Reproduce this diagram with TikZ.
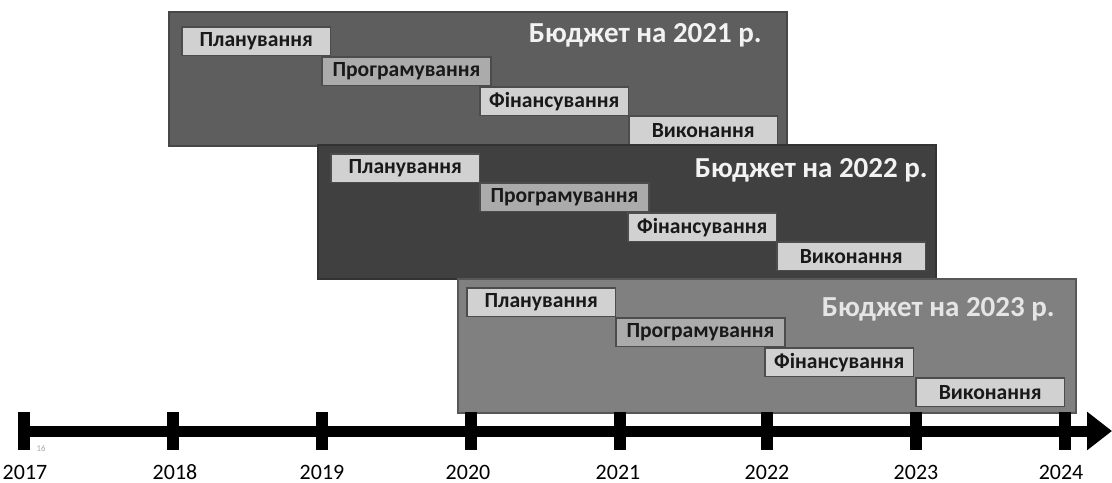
\documentclass[tikz,border=0pt]{standalone}
\usepackage{fontspec}
\setmainfont{Carlito}[Numbers=Lining]
\usepackage{tikz}
\usetikzlibrary{arrows.meta}

\begin{document}
\begin{tikzpicture}[x=0.02cm,y=-0.02cm,
   budget/.style={draw, line width=1.2pt, outer sep=0pt, inner sep=0pt,
                  minimum width=12.37cm, minimum height=2.68cm, anchor=north west},
   stage/.style={draw=black!70, line width=1pt, fill=black!18, text=black!90,
                 outer sep=0pt, inner sep=0pt, minimum width=2.97cm, minimum height=0.57cm,
                 anchor=north west, font=\bfseries\fontsize{12.3}{13}\selectfont},
   progr/.style={stage, fill=black!33, minimum width=3.38cm},
   title/.style={anchor=base east, inner sep=0pt, font=\bfseries\fontsize{16.5}{18}\selectfont},
   tick/.style={fill=black, inner sep=0pt, minimum width=0.23cm, minimum height=0.75cm},
   year/.style={anchor=base, inner sep=0pt, font=\fontsize{12.5}{13}\selectfont}]
   \useasboundingbox (0,0) rectangle (1112,483);

   % budget 2021
   \node[budget, draw=black!72, fill=black!63] (bud21) at (169,12) {};
   \node[title, text=white!95!black] (tit21) at (762,43) {Бюджет на 2021 р.};
   \node[stage] (plan21) at (182,27) {Планування};
   \node[progr] (prog21) at (322,57) {Програмування};
   \node[stage] (fin21) at (480,87) {Фінансування};
   \node[stage] (vyk21) at (629,116) {Виконання};

   % budget 2022
   \node[budget, draw=black!80, fill=black!75] (bud22) at (318,145) {};
   \node[title, text=white!95!black] (tit22) at (928,177) {Бюджет на 2022 р.};
   \node[stage] (plan22) at (331,154) {Планування};
   \node[progr] (prog22) at (480,183) {Програмування};
   \node[stage] (fin22) at (628,213) {Фінансування};
   \node[stage] (vyk22) at (777,242) {Виконання};

   % budget 2023
   \node[budget, draw=black!66, fill=black!50] (bud23) at (458,279) {};
   \node[title, text=white!90!black] (tit23) at (1055,316) {Бюджет на 2023 р.};
   \node[stage] (plan23) at (467,288) {Планування};
   \node[progr] (prog23) at (616,318) {Програмування};
   \node[stage] (fin23) at (765,348) {Фінансування};
   \node[stage] (vyk23) at (916,378) {Виконання};

   % time axis
   \coordinate (ax0) at (18,431);
   \coordinate (ax1) at (1112,431);
   \draw[line width=0.22cm, -{Triangle[length=0.5cm, width=0.74cm]}] (ax0) -- (ax1);
   %\draw[ultra thin] (ax0) -- (ax1);
   \node[tick] (t17) at (24,431) {};   \node[year] (y17) at (25,479) {2017};
   \node[tick] (t18) at (173,431) {};  \node[year] (y18) at (175,479) {2018};
   \node[tick] (t19) at (322,431) {};  \node[year] (y19) at (322,479) {2019};
   \node[tick] (t20) at (471,431) {};  \node[year] (y20) at (468,479) {2020};
   \node[tick] (t21) at (620,431) {};  \node[year] (y21) at (618,479) {2021};
   \node[tick] (t22) at (767,431) {};  \node[year] (y22) at (767,479) {2022};
   \node[tick] (t23) at (916,431) {};  \node[year] (y23) at (916,479) {2023};
   \node[tick] (t24) at (1065,431) {}; \node[year] (y24) at (1061,479) {2024};
   \node[text=black!35, inner sep=0pt, font=\fontsize{5}{5}\selectfont] (pg) at (41,449) {16};
\end{tikzpicture}
\end{document}
